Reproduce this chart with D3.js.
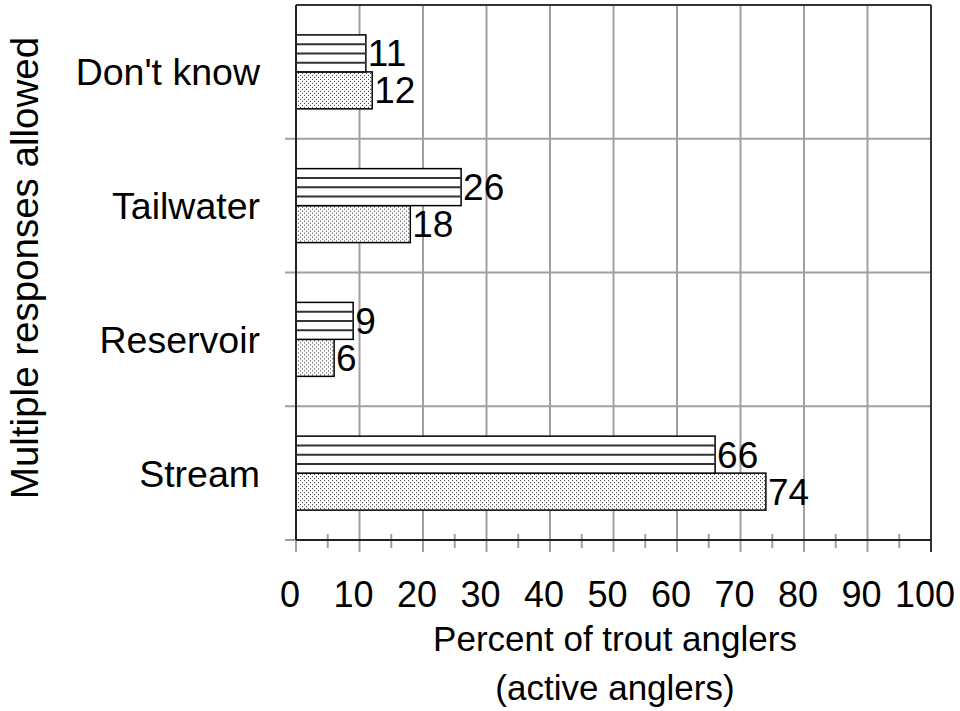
<!DOCTYPE html>
<html>
<head>
<meta charset="utf-8">
<script src="https://cdn.jsdelivr.net/npm/d3@7"></script>
<style>
  body { margin: 0; background: #fff; }
  text { font-family: "Liberation Sans", Arial, sans-serif; fill: #000; }
</style>
</head>
<body>
<script>
// Data
var categories = ["Don't know", "Tailwater", "Reservoir", "Stream"];
var series = ["striped", "dotted"];
var stripedValues = [11, 26, 9, 66];
var dottedValues = [12, 18, 6, 74];
var xTicks = [0, 10, 20, 30, 40, 50, 60, 70, 80, 90, 100];

var width = 960, height = 711;
var plotLeft = 296, plotRight = 931, plotTop = 5, plotBottom = 540;

var svg = d3.select("body").append("svg")
    .attr("width", width)
    .attr("height", height);

// dotted fill pattern
var defs = svg.append("defs");
var pat = defs.append("pattern")
    .attr("id", "dots")
    .attr("patternUnits", "userSpaceOnUse")
    .attr("width", 4)
    .attr("height", 4);
pat.append("rect").attr("width", 4).attr("height", 4).attr("fill", "#fff");
pat.append("rect").attr("x", 0).attr("y", 0).attr("width", 1).attr("height", 1).attr("fill", "#333");
pat.append("rect").attr("x", 2).attr("y", 2).attr("width", 1).attr("height", 1).attr("fill", "#333");

// Scales
var x = d3.scaleLinear().domain([0, 100]).range([plotLeft, plotRight]);
var y = d3.scaleBand().domain(categories).range([plotTop, plotBottom]).paddingInner(0.447).paddingOuter(0.2235);
var yOuter = d3.scaleBand().domain(categories).range([plotTop, plotBottom]);
var ySub = d3.scaleBand().domain(series).range([0, y.bandwidth()]);

// Vertical gridlines
svg.append("g").selectAll("line")
    .data(xTicks.slice(1, -1))
    .enter().append("line")
    .attr("x1", function(d) { return x(d); })
    .attr("x2", function(d) { return x(d); })
    .attr("y1", plotTop)
    .attr("y2", plotBottom + 12)
    .attr("stroke", "#a0a0a0")
    .attr("stroke-width", 2);

// Horizontal category separators
svg.append("g").selectAll("line")
    .data(categories.slice(1))
    .enter().append("line")
    .attr("x1", plotLeft - 11)
    .attr("x2", plotRight)
    .attr("y1", function(d) { return yOuter(d); })
    .attr("y2", function(d) { return yOuter(d); })
    .attr("stroke", "#a0a0a0")
    .attr("stroke-width", 2);

// Minor ticks at 5s
svg.append("g").selectAll("line")
    .data(xTicks.slice(0, -1).map(function(d) { return d + 5; }))
    .enter().append("line")
    .attr("x1", function(d) { return x(d); })
    .attr("x2", function(d) { return x(d); })
    .attr("y1", plotBottom - 6)
    .attr("y2", plotBottom + 8)
    .attr("stroke", "#a0a0a0")
    .attr("stroke-width", 2);

// frame: top, right, left tick stubs
svg.append("line").attr("x1", plotLeft).attr("x2", plotRight).attr("y1", plotTop).attr("y2", plotTop)
    .attr("stroke", "#333").attr("stroke-width", 2);
svg.append("line").attr("x1", plotRight).attr("x2", plotRight).attr("y1", plotTop).attr("y2", plotBottom + 12)
    .attr("stroke", "#333").attr("stroke-width", 2);
svg.append("line").attr("x1", plotLeft - 11).attr("x2", plotLeft).attr("y1", plotBottom).attr("y2", plotBottom)
    .attr("stroke", "#a0a0a0").attr("stroke-width", 2);
svg.append("line").attr("x1", plotLeft).attr("x2", plotLeft).attr("y1", plotBottom).attr("y2", plotBottom + 12)
    .attr("stroke", "#a0a0a0").attr("stroke-width", 2);

// Bars
var rows = categories.map(function(c, i) {
    return {cat: c, striped: stripedValues[i], dotted: dottedValues[i]};
});

var groups = svg.append("g").selectAll("g")
    .data(rows)
    .enter().append("g")
    .attr("transform", function(d) { return "translate(0," + y(d.cat) + ")"; });

groups.append("rect")
    .attr("x", x(0))
    .attr("y", ySub("dotted"))
    .attr("width", function(d) { return x(d.dotted) - x(0); })
    .attr("height", ySub.bandwidth())
    .attr("fill", "url(#dots)")
    .attr("stroke", "#000")
    .attr("stroke-width", 1.5);

groups.append("rect")
    .attr("x", x(0))
    .attr("y", ySub("striped"))
    .attr("width", function(d) { return x(d.striped) - x(0); })
    .attr("height", ySub.bandwidth())
    .attr("fill", "#fff")
    .attr("stroke", "#000")
    .attr("stroke-width", 1.5);

// horizontal stripes inside the striped bars
groups.each(function(d) {
    var g = d3.select(this);
    [1, 2, 3].forEach(function(k) {
        var yy = ySub("striped") + k * ySub.bandwidth() / 4;
        g.append("line")
            .attr("x1", x(0))
            .attr("x2", x(d.striped))
            .attr("y1", yy)
            .attr("y2", yy)
            .attr("stroke", "#333")
            .attr("stroke-width", 2);
    });
});

// Value labels
var labelSize = 37;
series.forEach(function(s) {
    groups.append("text")
        .attr("x", function(d) { return x(d[s]) + 2; })
        .attr("y", ySub(s) + ySub.bandwidth() / 2 + labelSize * 0.35)
        .style("font-size", labelSize + "px")
        .text(function(d) { return d[s]; });
});

// Left axis line
svg.append("line").attr("x1", plotLeft).attr("x2", plotLeft).attr("y1", plotTop).attr("y2", plotBottom)
    .attr("stroke", "#222").attr("stroke-width", 2);
// Bottom axis line
svg.append("line").attr("x1", plotLeft).attr("x2", plotRight).attr("y1", plotBottom).attr("y2", plotBottom)
    .attr("stroke", "#222").attr("stroke-width", 2);

// Category labels
svg.append("g").selectAll("text")
    .data(categories)
    .enter().append("text")
    .attr("x", 260)
    .attr("y", function(d) { return yOuter(d) + yOuter.bandwidth() / 2 + 37.5 * 0.358; })
    .attr("text-anchor", "end")
    .style("font-size", "37.5px")
    .text(function(d) { return d; });

// X tick labels
svg.append("g").selectAll("text")
    .data(xTicks)
    .enter().append("text")
    .attr("x", function(d) { return x(d) - 6; })
    .attr("y", 607)
    .attr("text-anchor", "middle")
    .style("font-size", "36px")
    .text(function(d) { return d; });

// X title
svg.append("text")
    .attr("x", 615)
    .attr("y", 651)
    .attr("text-anchor", "middle")
    .style("font-size", "35px")
    .text("Percent of trout anglers");
svg.append("text")
    .attr("x", 615)
    .attr("y", 700)
    .attr("text-anchor", "middle")
    .style("font-size", "35px")
    .text("(active anglers)");

// Y title
svg.append("text")
    .attr("transform", "translate(38,268) rotate(-90)")
    .attr("text-anchor", "middle")
    .style("font-size", "38.5px")
    .text("Multiple responses allowed");
</script>
</body>
</html>
